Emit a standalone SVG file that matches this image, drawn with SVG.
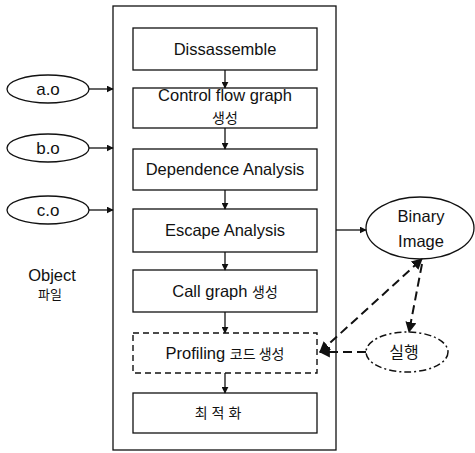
<svg xmlns="http://www.w3.org/2000/svg" width="475" height="453" viewBox="0 0 475 453">
<defs>
<style>
.box{fill:#fff;stroke:#111;stroke-width:1.3}
.dbox{fill:#fff;stroke:#111;stroke-width:1.4;stroke-dasharray:6 4}
.t{font-family:"Liberation Sans","Noto Sans CJK KR",sans-serif;font-size:16.5px;fill:#111;text-anchor:middle}
.k{font-family:"Noto Sans CJK KR","Liberation Sans",sans-serif;font-size:13px;fill:#111;text-anchor:middle}
.ln{fill:none;stroke:#111;stroke-width:1.3}
.dl{fill:none;stroke:#111;stroke-width:2;stroke-dasharray:9 5}
</style>
<marker id="ah" viewBox="0 0 10 10" refX="9" refY="5" markerWidth="7" markerHeight="7" markerUnits="userSpaceOnUse" orient="auto"><path d="M0,0 L10,5 L0,10 z" fill="#111"/></marker>
<marker id="ahb" viewBox="0 0 10 10" refX="9" refY="5" markerWidth="11" markerHeight="11" markerUnits="userSpaceOnUse" orient="auto-start-reverse"><path d="M0,0 L10,5 L0,10 z" fill="#111"/></marker>
</defs>
<rect x="113" y="6" width="223" height="444" class="box" fill="none"/>
<g id="n-dis"><rect x="133" y="28" width="184" height="42" class="box"/><text x="225" y="55" class="t">Dissassemble</text></g>
<g id="n-cfg"><rect x="133" y="88" width="184" height="40" class="box"/><text x="225" y="101" class="t">Control flow graph</text><text x="225" y="123" class="k" style="font-size:14px">생성</text></g>
<g id="n-dep"><rect x="133" y="149" width="184" height="41" class="box"/><text x="225" y="175" class="t">Dependence Analysis</text></g>
<g id="n-esc"><rect x="133" y="209" width="184" height="43" class="box"/><text x="225" y="236" class="t">Escape Analysis</text></g>
<g id="n-call"><rect x="133" y="270" width="184" height="42" class="box"/><text x="225" y="297" class="t">Call graph <tspan style="font-family:'Noto Sans CJK KR',sans-serif;font-size:14px">생성</tspan></text></g>
<g id="n-prof"><rect x="133" y="333" width="184" height="40" class="dbox"/><text x="225" y="359" class="t">Profiling <tspan style="font-family:'Noto Sans CJK KR',sans-serif;font-size:14px">코드 생성</tspan></text></g>
<g id="n-opt"><rect x="133" y="393" width="184" height="40" class="box"/><text x="220" y="418" class="k" style="font-size:14px;letter-spacing:4px">최적화</text></g>
<g id="n-a"><ellipse cx="48" cy="89" rx="41" ry="14" class="box"/><text x="48" y="95" class="t" style="font-size:17px">a.o</text></g>
<g id="n-b"><ellipse cx="48" cy="148" rx="41" ry="14" class="box"/><text x="48" y="154" class="t" style="font-size:17px">b.o</text></g>
<g id="n-c"><ellipse cx="48" cy="210" rx="41" ry="14" class="box"/><text x="48" y="216" class="t" style="font-size:17px">c.o</text></g>
<g id="n-obj"><text x="52" y="281" class="t">Object</text><text x="50" y="299" class="k">파일</text></g>
<g id="n-bin"><ellipse cx="420" cy="228" rx="54" ry="31" class="box"/><text x="421" y="222" class="t">Binary</text><text x="421" y="247" class="t">Image</text></g>
<g id="n-run"><ellipse cx="407" cy="352" rx="41" ry="20" fill="#fff" stroke="#111" stroke-width="1.5" stroke-dasharray="7 3 2 3"/><text x="404" y="358" class="k" style="font-size:16px">실행</text></g>
<g id="connectors">
<line x1="89" y1="89" x2="113" y2="89" class="ln" marker-end="url(#ah)"/>
<line x1="89" y1="148" x2="113" y2="148" class="ln" marker-end="url(#ah)"/>
<line x1="89" y1="210" x2="113" y2="210" class="ln" marker-end="url(#ah)"/>
<line x1="225" y1="70" x2="225" y2="88" class="ln" marker-end="url(#ah)"/>
<line x1="225" y1="128" x2="225" y2="149" class="ln" marker-end="url(#ah)"/>
<line x1="225" y1="190" x2="225" y2="209" class="ln" marker-end="url(#ah)"/>
<line x1="225" y1="252" x2="225" y2="270" class="ln" marker-end="url(#ah)"/>
<line x1="225" y1="312" x2="225" y2="333" class="ln" marker-end="url(#ah)"/>
<line x1="225" y1="373" x2="225" y2="393" class="ln" marker-end="url(#ah)"/>
<line x1="336" y1="230" x2="366" y2="230" class="ln" marker-end="url(#ah)"/>
<line x1="320" y1="352" x2="422" y2="259" class="dl" marker-start="url(#ahb)" marker-end="url(#ahb)"/>
<line x1="422" y1="264" x2="409" y2="332" class="dl" marker-end="url(#ahb)"/>
<line x1="366" y1="352" x2="320" y2="352" class="dl" marker-end="url(#ahb)"/>
</g>
</svg>
